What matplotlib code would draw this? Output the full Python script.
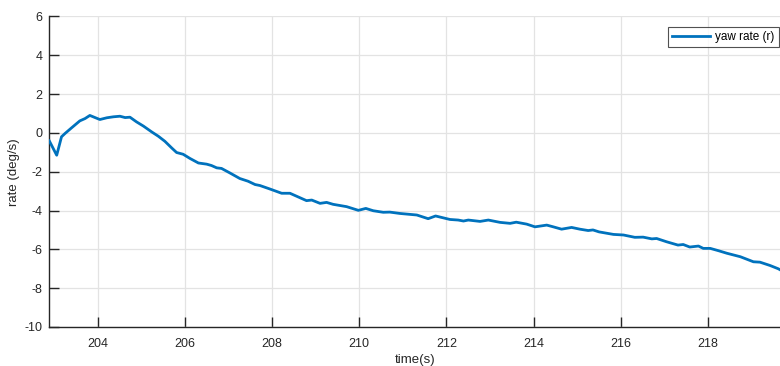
import matplotlib
matplotlib.use("Agg")
import matplotlib.pyplot as plt
import numpy as np

# yaw rate trace, time in seconds, rate in deg/s
time_s = [
    202.89, 203.06, 203.17, 203.25, 203.40, 203.59, 203.71, 203.82, 203.94, 204.05,
    204.21, 204.36, 204.51, 204.63, 204.74, 204.89, 205.05, 205.24, 205.39, 205.54,
    205.70, 205.81, 205.96, 206.12, 206.31, 206.50, 206.61, 206.73, 206.84, 207.03,
    207.26, 207.45, 207.61, 207.72, 207.95, 208.22, 208.41, 208.79, 208.91, 209.10,
    209.25, 209.40, 209.71, 209.98, 210.15, 210.32, 210.55, 210.70, 210.93, 211.32,
    211.58, 211.75, 212.08, 212.27, 212.39, 212.50, 212.77, 212.96, 213.23, 213.46,
    213.60, 213.84, 214.03, 214.30, 214.45, 214.64, 214.87, 215.06,
    215.25, 215.36, 215.50, 215.83, 216.06, 216.32, 216.51, 216.71, 216.82, 217.05,
    217.31, 217.43, 217.58, 217.78, 217.89, 218.05, 218.24, 218.43, 218.74, 219.04,
    219.19, 219.42, 219.61, 219.65,
]
yaw_rate = [
    -0.41, -1.15, -0.20, -0.03, 0.26, 0.62, 0.74, 0.90, 0.79, 0.69,
    0.78, 0.83, 0.86, 0.79, 0.81, 0.57, 0.35, 0.05, -0.17, -0.43,
    -0.78, -1.01, -1.10, -1.32, -1.55, -1.61, -1.68, -1.80, -1.83, -2.06,
    -2.35, -2.49, -2.66, -2.71, -2.89, -3.11, -3.11, -3.49, -3.46, -3.63,
    -3.58, -3.68, -3.80, -3.99, -3.89, -4.01, -4.09, -4.08, -4.15, -4.23,
    -4.42, -4.28, -4.46, -4.49, -4.54, -4.49, -4.56, -4.49, -4.61, -4.66,
    -4.60, -4.70, -4.84, -4.75, -4.84, -4.96, -4.87, -4.96,
    -5.03, -5.00, -5.10, -5.23, -5.26, -5.38, -5.37, -5.46, -5.44, -5.61,
    -5.78, -5.75, -5.88, -5.83, -5.95, -5.95, -6.07, -6.20, -6.38, -6.64,
    -6.66, -6.83, -7.00, -7.05,
]
x_ticks = [204, 206, 208, 210, 212, 214, 216, 218]
y_ticks = [-10, -8, -6, -4, -2, 0, 2, 4, 6]

plt.rcParams['font.family'] = ['Liberation Sans', 'DejaVu Sans']
plt.rcParams['axes.unicode_minus'] = False
axis_col = '#262626'

fig = plt.figure(figsize=(7.8, 3.66), dpi=100)
ax = fig.add_axes([0.0632, 0.1066, 0.9368, 0.8484])

ax.plot(time_s, yaw_rate, color='#0072BD', lw=2.0, label='yaw rate (r)', zorder=3)

ax.set_xlim(202.89, 219.65)
ax.set_ylim(-10, 6)
ax.set_xticks(x_ticks)
ax.set_yticks(y_ticks)
ax.grid(True, color='#e3e3e3', lw=0.9)
ax.set_axisbelow(True)

for side in ('top', 'right'):
    ax.spines[side].set_visible(False)
for side in ('left', 'bottom'):
    ax.spines[side].set_color(axis_col)
    ax.spines[side].set_linewidth(1.0)
ax.tick_params(direction='in', length=7, width=1.0, colors=axis_col,
               labelsize=9, pad=5)
ax.tick_params(axis='x', pad=8)

ax.set_xlabel('time(s)', fontsize=9.5, color=axis_col, labelpad=3)
ax.set_ylabel('rate (deg/s)', fontsize=9.5, color=axis_col, labelpad=3)

leg = ax.legend(loc='upper right', fontsize=8.5, frameon=True, fancybox=False,
                handlelength=3.2, borderpad=0.35, handletextpad=0.5,
                borderaxespad=0, bbox_to_anchor=(0.9986, 0.966))
leg.get_frame().set_edgecolor(axis_col)
leg.get_frame().set_linewidth(0.8)

fig.savefig('out.png', dpi=100)
